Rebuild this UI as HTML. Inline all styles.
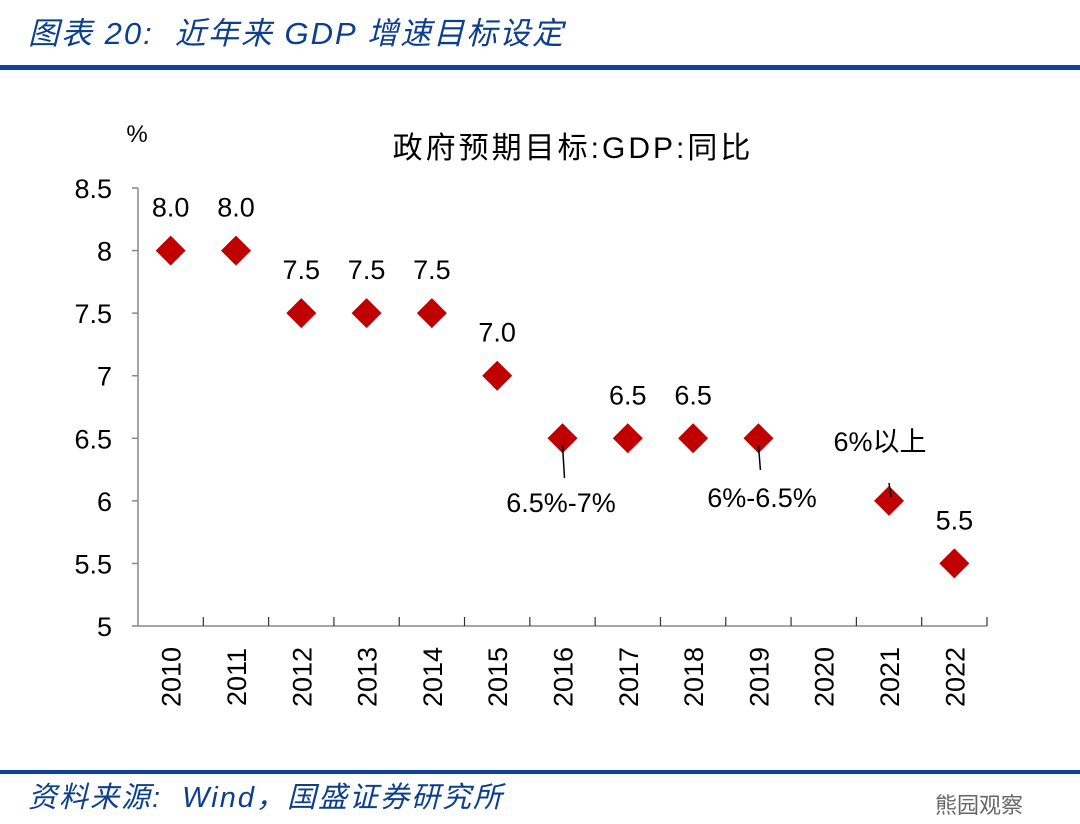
<!DOCTYPE html>
<html><head><meta charset="utf-8"><style>
body{margin:0;background:#fff;width:1080px;height:824px;overflow:hidden;font-family:"Liberation Sans","Noto Sans CJK SC",sans-serif}
.hdr{position:absolute;left:28px;top:8px;font-size:31px;color:#0d3f8f;font-style:italic;font-family:"Liberation Sans","Noto Sans CJK SC",sans-serif;letter-spacing:2px}
.src{position:absolute;left:28px;top:774px;font-size:29px;color:#0d3f8f;font-style:italic;letter-spacing:2px}
.line{position:absolute;left:0;width:1080px;background:#0b44a0}
</style></head><body>
<div class="hdr">图表 20:&nbsp; 近年来 GDP 增速目标设定</div>
<div class="line" style="top:65px;height:5px"></div>
<div class="line" style="top:770px;height:4px"></div>
<div class="src">资料来源:&nbsp; Wind，国盛证券研究所</div>
<div style="position:absolute;left:935px;top:788px;font-size:22px;color:#666">熊园观察</div>
<svg id="chart" width="1080" height="824" style="position:absolute;left:0;top:0"></svg>
<script>
const categories=["2010","2011","2012","2013","2014","2015","2016","2017","2018","2019","2020","2021","2022"];
const values=[8.0,8.0,7.5,7.5,7.5,7.0,6.5,6.5,6.5,6.5,null,6.0,5.5];
const labels=["8.0","8.0","7.5","7.5","7.5","7.0","","6.5","6.5","","","","5.5"];
const yTicks=[5,5.5,6,6.5,7,7.5,8,8.5];
const yTickLabels=["5","5.5","6","6.5","7","7.5","8","8.5"];
const svg=document.getElementById('chart');const NS="http://www.w3.org/2000/svg";
const x0=138,x1=987,yTop=188,yBot=626;
const bw=(x1-x0)/categories.length;
const X=i=>x0+bw*(i+0.5);
const Y=v=>yBot-(v-5)/(8.5-5)*(yBot-yTop);
function mk(t,a,p){const e=document.createElementNS(NS,t);for(const k in a)e.setAttribute(k,a[k]);(p||svg).appendChild(e);return e;}
function txt(s,x,y,sz,anchor,name){const e=mk('text',{x:x,y:y,'font-size':sz,'text-anchor':anchor||'middle',fill:'#000','font-family':'"Liberation Sans","Noto Sans CJK SC",sans-serif'});e.textContent=s;

return e;}
txt('%',137,142,24,'middle','y-axis-unit');
const tt=txt('政府预期目标:GDP:同比',573,158,30,'middle','chart-title');tt.setAttribute('letter-spacing','3');
let ax=mk('line',{x1:x0,y1:yTop,x2:x0,y2:yBot,stroke:'#888','stroke-width':1.5});


let bx=mk('line',{x1:x0,y1:yBot,x2:x1,y2:yBot,stroke:'#888','stroke-width':1.5});


yTicks.forEach((v,i)=>{const l=mk('line',{x1:x0-6,y1:Y(v),x2:x0,y2:Y(v),stroke:'#888','stroke-width':1.5});


txt(yTickLabels[i],112,Y(v)+10,27,'end','y-tick-label');});
categories.forEach((c,i)=>{const tx=x0+bw*(i+1);const l=mk('line',{x1:tx,y1:yBot,x2:tx,y2:yBot-9,stroke:'#333','stroke-width':1.2});


const t=txt(c,0,0,27,'middle','x-tick-label');t.setAttribute('transform',`translate(${X(i)+10},${677}) rotate(-90)`);});
values.forEach((v,i)=>{if(v==null)return;const cx=X(i),cy=Y(v),r=15;
const d=mk('polygon',{points:`${cx},${cy-r} ${cx+r},${cy} ${cx},${cy+r} ${cx-r},${cy}`,fill:'#c00000'});


if(labels[i])txt(labels[i],cx,cy-34,27,'middle','value-label');});
function callout(i,s,lx,ly,y1,y2){const cx=X(i);const l=mk('line',{x1:cx,y1:y1,x2:cx+2,y2:y2,stroke:'#000','stroke-width':1.5});


txt(s,lx,ly,27,'middle','callout-label');}
callout(6,'6.5%-7%',561,512,445,478);
callout(9,'6%-6.5%',762,507,445,470);
callout(11,'6%以上',880,451,483,497);
</script>
</body></html>
